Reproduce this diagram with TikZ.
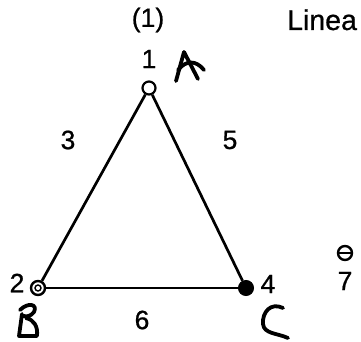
\documentclass[tikz,border=0pt]{standalone}
\usepackage{fontspec}
\setmainfont{Liberation Sans}[FakeBold=0.8]
\begin{document}
\begin{tikzpicture}[x=1pt,y=-1pt,
  lbl/.style={font=\fontsize{26.5}{28}\selectfont, inner sep=0pt},
  edge/.style={line width=2.7pt},
  hand/.style={line width=3.8pt, line cap=round, line join=round},
  opennode/.style={circle, draw, line width=2.2pt, fill=white, minimum size=13pt, inner sep=0pt},
  fillnode/.style={circle, draw, line width=1pt, fill=black, minimum size=15pt, inner sep=0pt},
  dblnode/.style={circle, draw, line width=2.4pt, fill=white, minimum size=14pt, inner sep=0pt}
]
\useasboundingbox (0,0) rectangle (361,342);
% vertices
\node[opennode] (A) at (149,88) {};
\node[dblnode] (B) at (38,288) {};
\node[fillnode] (C) at (246,288) {};
\draw[line width=1.4pt] (B.center) circle (3pt);
% edges
\draw[edge] (A) -- (B);
\draw[edge] (A) -- (C);
\draw[edge] (B) -- (C);
% labels
\node[lbl] (t1p) at (148,20) {(1)};
\node[lbl] (t1) at (149,59) {1};
\node[lbl] (t2) at (17,283) {2};
\node[lbl] (t4) at (268,284) {4};
\node[lbl] (t3) at (68,140) {3};
\node[lbl] (t5) at (230,140) {5};
\node[lbl] (t6) at (142,320) {6};
\node[lbl] (t7) at (345,281) {7};
\node[lbl, anchor=base west, font=\fontsize{28.5}{30}\selectfont] (lin) at (287,30) {Linea};
% node 7 symbol
\node[circle, draw, line width=2.4pt, minimum size=14pt, inner sep=0pt] (n7) at (345,253) {};
\draw[line width=2.8pt] (n7.west) -- (n7.east);
% handwritten letters
\draw[hand] (176,81) -- (184,52) -- (198,79);
\draw[hand] (178,70) .. controls (186,60) and (196,60) .. (204,70);
\draw[hand] (20,310) .. controls (28,302) and (38,304) .. (34,312) .. controls (31,316) and (27,317) .. (24,316)
  (22,314) -- (19,336) -- (37,336) .. controls (38,326) and (34,320) .. (26,318);
\draw[hand] (283,308) .. controls (271,302) and (262,312) .. (263,324) .. controls (264,334) and (277,333) .. (288,338);
\end{tikzpicture}
\end{document}
